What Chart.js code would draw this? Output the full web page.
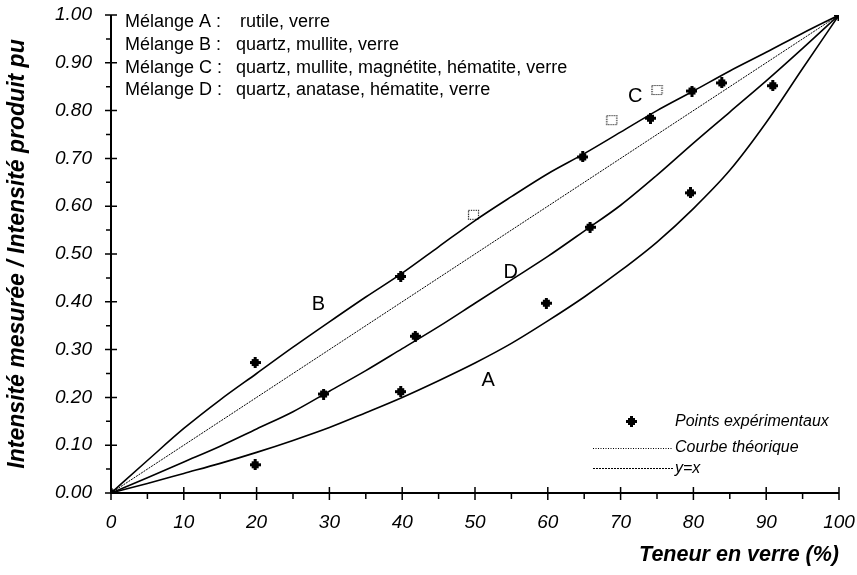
<!DOCTYPE html>
<html>
<head>
<meta charset="utf-8">
<script src="https://cdn.jsdelivr.net/npm/chart.js@4/dist/chart.umd.min.js"></script>
<style>
  html, body { margin: 0; padding: 0; background: #fff; }
  #wrap { width: 857px; height: 575px; }
</style>
</head>
<body>
<div id="wrap"><canvas id="myChart" width="857" height="575"></canvas></div>
<script>
// abscisses des courbes (teneur en verre, %)
const curveX = [0, 5, 10, 15, 20, 25, 30, 35, 40, 45, 50, 55, 60, 65, 70, 75, 80, 85, 90, 95, 100];
// courbes théoriques
const curveA = [0, 0.02, 0.041, 0.062, 0.085, 0.11, 0.137, 0.168, 0.2, 0.235, 0.272, 0.313, 0.36, 0.41, 0.465, 0.525, 0.595, 0.675, 0.775, 0.888, 1.0];
const curveB = [0, 0.068, 0.135, 0.195, 0.25, 0.305, 0.358, 0.41, 0.46, 0.515, 0.57, 0.62, 0.668, 0.71, 0.755, 0.80, 0.841, 0.883, 0.922, 0.962, 1.0];
const curveD = [0, 0.032, 0.065, 0.098, 0.134, 0.17, 0.213, 0.256, 0.302, 0.348, 0.397, 0.446, 0.495, 0.548, 0.602, 0.665, 0.732, 0.797, 0.862, 0.93, 1.0];
const lineYX = [0, 100];

// points expérimentaux
const expX = [0, 19.8, 19.8, 29.2, 39.8, 39.8, 41.8, 59.8, 64.8, 65.8, 74.1, 79.8, 79.6, 83.9, 90.9, 100];
const expY = [0, 0.273, 0.059, 0.207, 0.453, 0.212, 0.328, 0.397, 0.703, 0.556, 0.784, 0.841, 0.628, 0.858, 0.852, 1.0];
// mélange C (symboles creux)
const melCX = [49.8, 68.8, 75.0];
const melCY = [0.582, 0.780, 0.843];

// étiquettes des courbes
const curveLabels = ['A', 'B', 'C', 'D'];
const curveLabelX = [51.8, 28.5, 72.0, 54.9];
const curveLabelY = [0.236, 0.395, 0.829, 0.461];

const melangeNames = ['Mélange A :', 'Mélange B :', 'Mélange C :', 'Mélange D :'];
const melangeTexts = ['rutile, verre', 'quartz, mullite, verre', 'quartz, mullite, magnétite, hématite, verre', 'quartz, anatase, hématite, verre'];

const yTicks = [0, 0.1, 0.2, 0.3, 0.4, 0.5, 0.6, 0.7, 0.8, 0.9, 1.0];

const FONT = "'Liberation Sans', Arial, sans-serif";

// symboles
function blobMarker() {
    const c = document.createElement('canvas');
    c.width = 11; c.height = 11;
    const g = c.getContext('2d');
    g.fillStyle = '#000';
    g.fillRect(2, 2, 7, 7);
    g.fillRect(4, 0, 3, 11);
    g.fillRect(0, 4, 11, 3);
    return c;
}
function hollowMarker() {
    const c = document.createElement('canvas');
    c.width = 13; c.height = 12;
    const g = c.getContext('2d');
    g.strokeStyle = '#000';
    g.lineWidth = 1.2;
    g.setLineDash([1.2, 1.2]);
    g.strokeRect(1.5, 1.5, 10, 9);
    return c;
}
const blob = blobMarker();
const hollow = hollowMarker();

const toPts = (xs, ys) => xs.map((x, i) => ({x: x, y: ys[i]}));

function curveDs(ys) {
    return {
        data: toPts(curveX, ys),
        showLine: true,
        borderColor: '#000',
        borderWidth: 1.6,
        pointRadius: 0,
        cubicInterpolationMode: 'monotone'
    };
}

// axes + texte
const decor = {
    id: 'decor',
    beforeDatasetsDraw(chart) {
        const {ctx, scales: {x, y}} = chart;
        const x0 = x.getPixelForValue(0), x1 = x.getPixelForValue(100);
        const y0 = y.getPixelForValue(0), y1 = y.getPixelForValue(1);
        ctx.save();
        ctx.strokeStyle = '#000';
        ctx.lineWidth = 2;
        ctx.beginPath();
        ctx.moveTo(x0, y0 + 1); ctx.lineTo(x0, y1);
        ctx.moveTo(x0 - 1, y0); ctx.lineTo(x1, y0);
        ctx.stroke();
        ctx.lineWidth = 1.5;
        ctx.beginPath();
        for (let i = 0; i <= 20; i++) {
            const py = y.getPixelForValue(i * 0.05);
            if (i % 2 === 0) { ctx.moveTo(x0 - 6, py); ctx.lineTo(x0 + 6, py); }
            else { ctx.moveTo(x0 - 5, py); ctx.lineTo(x0, py); }
            const px = x.getPixelForValue(i * 5);
            if (i % 2 === 0) { ctx.moveTo(px, y0 - 6); ctx.lineTo(px, y0 + 7); }
            else { ctx.moveTo(px, y0); ctx.lineTo(px, y0 + 6); }
        }
        ctx.stroke();
        ctx.restore();
    },
    afterDraw(chart) {
        const {ctx, scales: {x, y}} = chart;
        ctx.save();
        ctx.fillStyle = '#000';
        ctx.textBaseline = 'middle';
        // description des mélanges
        ctx.font = '18px ' + FONT;
        ctx.textAlign = 'left';
        for (let i = 0; i < melangeNames.length; i++) {
            const ty = 22.5 + i * 22.6;
            ctx.fillText(melangeNames[i], 125, ty);
            ctx.fillText(melangeTexts[i], i === 0 ? 240 : 236, ty);
        }
        // lettres des courbes
        ctx.font = '20px ' + FONT;
        ctx.textAlign = 'center';
        for (let i = 0; i < curveLabels.length; i++) {
            ctx.fillText(curveLabels[i], x.getPixelForValue(curveLabelX[i]), y.getPixelForValue(curveLabelY[i]));
        }
        // légende
        const lx = 593, tx = 675;
        ctx.drawImage(blob, 626, 416);
        ctx.font = 'italic 16px ' + FONT;
        ctx.textAlign = 'left';
        ctx.fillText('Points expérimentaux', tx, 422);
        ctx.fillText('Courbe théorique', tx, 448);
        ctx.fillText('y=x', tx, 469);
        ctx.lineWidth = 1;
        ctx.strokeStyle = '#000';
        ctx.setLineDash([1, 1.5]);
        ctx.beginPath(); ctx.moveTo(lx, 448.5); ctx.lineTo(673, 448.5); ctx.stroke();
        ctx.setLineDash([2, 1]);
        ctx.beginPath(); ctx.moveTo(lx, 468.5); ctx.lineTo(673, 468.5); ctx.stroke();
        ctx.restore();
    }
};

const ctx = document.getElementById('myChart').getContext('2d');
new Chart(ctx, {
    type: 'scatter',
    data: {
        datasets: [
            curveDs(curveA),
            curveDs(curveB),
            curveDs(curveD),
            {
                data: toPts(lineYX, lineYX.map(v => v / 100)),
                showLine: true,
                borderColor: '#000',
                borderWidth: 1,
                borderDash: [2, 1],
                pointRadius: 0
            },
            {
                data: toPts(melCX, melCY),
                pointStyle: hollow,
                pointRadius: 6
            },
            {
                data: toPts(expX, expY),
                pointStyle: blob,
                pointRadius: 6
            }
        ]
    },
    options: {
        responsive: false,
        animation: false,
        layout: {
            padding: {top: 15, right: 18, bottom: 0, left: 0}
        },
        plugins: {
            legend: {display: false},
            tooltip: {enabled: false}
        },
        scales: {
            x: {
                type: 'linear',
                min: 0,
                max: 100,
                afterFit(scale) {
                    scale.height = 82;
                    scale.paddingLeft = 0;
                    scale.paddingRight = 0;
                },
                grid: {display: false, drawTicks: false},
                border: {display: false},
                ticks: {
                    stepSize: 10,
                    padding: 18,
                    color: '#000',
                    font: {family: FONT, size: 19, style: 'italic'}
                },
                title: {
                    display: true,
                    text: 'Teneur en verre (%)',
                    align: 'end',
                    color: '#000',
                    padding: {top: 0, bottom: 7},
                    font: {family: FONT, size: 21.5, style: 'italic', weight: 'bold'}
                }
            },
            y: {
                type: 'linear',
                min: 0,
                max: 1,
                afterFit(scale) {
                    scale.width = 111;
                    scale.paddingTop = 0;
                    scale.paddingBottom = 0;
                },
                afterBuildTicks(scale) { scale.ticks = yTicks.map(v => ({value: v})); },
                grid: {display: false, drawTicks: false},
                border: {display: false},
                ticks: {
                    padding: 19,
                    color: '#000',
                    font: {family: FONT, size: 19, style: 'italic'},
                    callback: v => v.toFixed(2)
                },
                title: {
                    display: true,
                    text: 'Intensité mesurée / Intensité produit pu',
                    color: '#000',
                    padding: {top: 4, bottom: 0},
                    font: {family: FONT, size: 23, style: 'italic', weight: 'bold'}
                }
            }
        }
    },
    plugins: [decor]
});
</script>
</body>
</html>
